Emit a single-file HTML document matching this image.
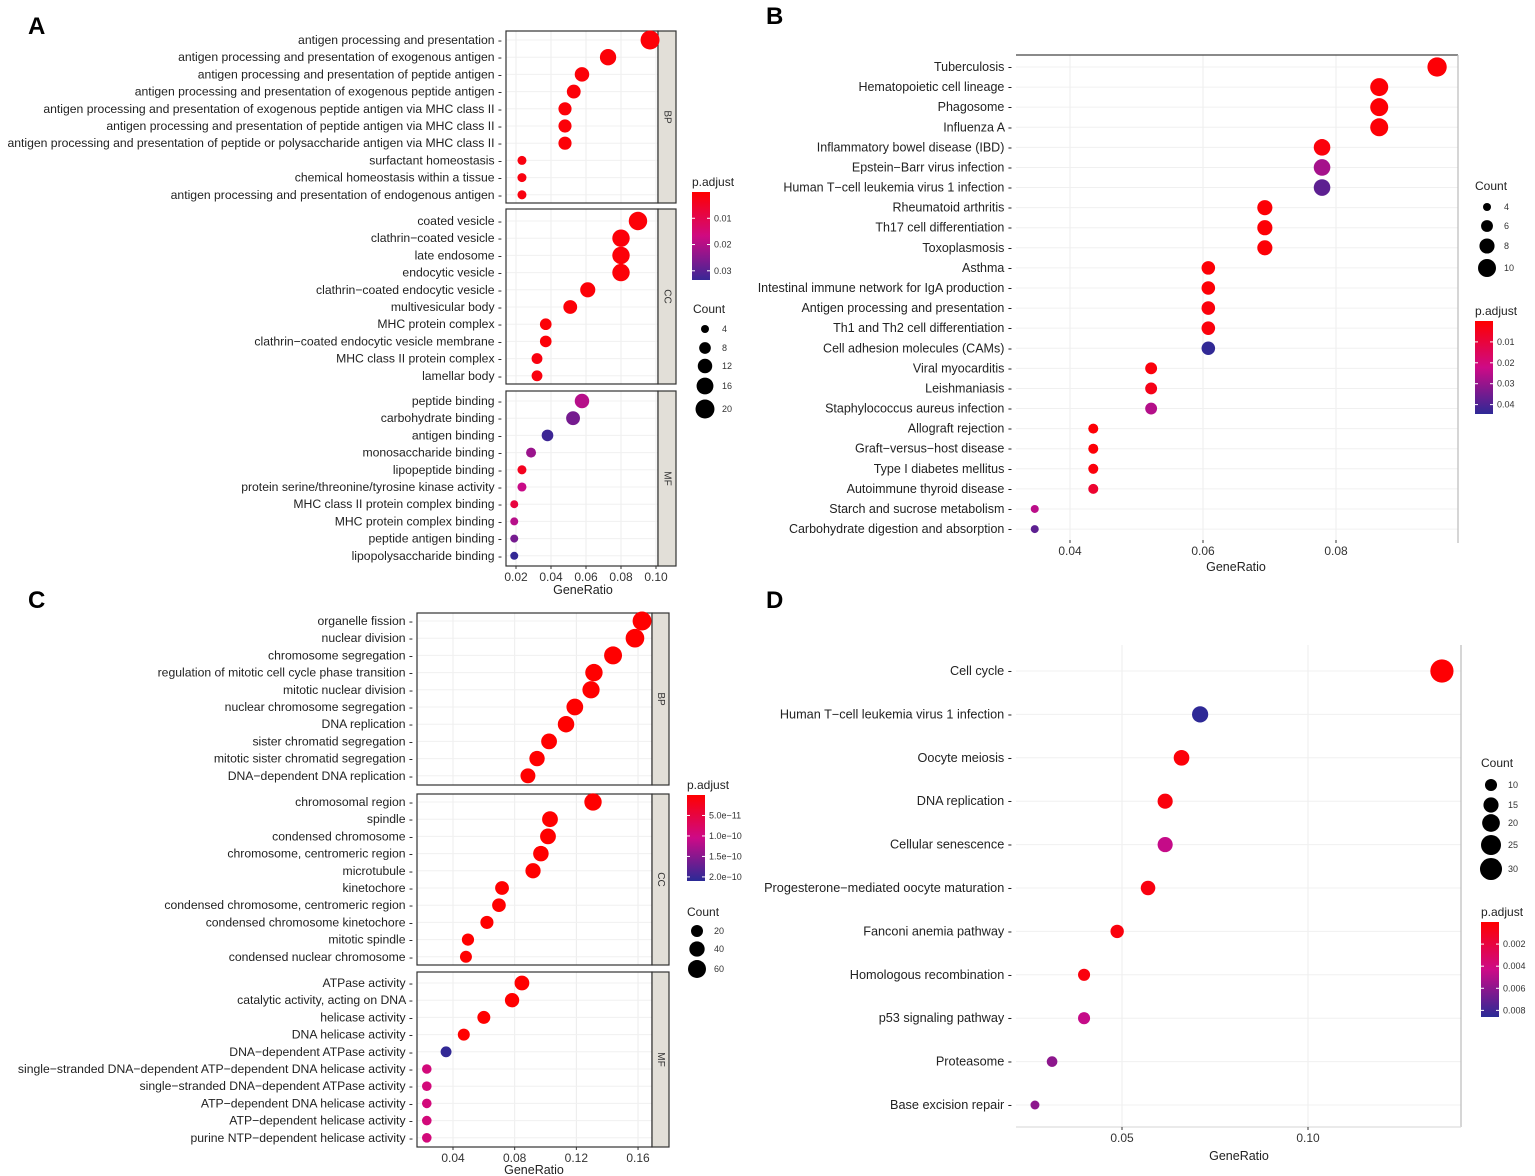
<!DOCTYPE html>
<html><head><meta charset="utf-8">
<style>
html,body{margin:0;padding:0;background:#fff;}
svg{display:block;font-family:"Liberation Sans",Arial,sans-serif;}
</style></head>
<body>
<svg id="fig" width="1535" height="1176" viewBox="0 0 1535 1176" xmlns="http://www.w3.org/2000/svg">
<rect width="1535" height="1176" fill="#fff"/>
<text x="28" y="34" font-size="24" font-weight="bold">A</text>
<text x="766" y="24" font-size="24" font-weight="bold">B</text>
<text x="28" y="608" font-size="24" font-weight="bold">C</text>
<text x="766" y="608" font-size="24" font-weight="bold">D</text>
</svg>
<script>
// ---------- Panel A data ----------
const aTerms = ["antigen processing and presentation","antigen processing and presentation of exogenous antigen","antigen processing and presentation of peptide antigen","antigen processing and presentation of exogenous peptide antigen","antigen processing and presentation of exogenous peptide antigen via MHC class II","antigen processing and presentation of peptide antigen via MHC class II","antigen processing and presentation of peptide or polysaccharide antigen via MHC class II","surfactant homeostasis","chemical homeostasis within a tissue","antigen processing and presentation of endogenous antigen",
"coated vesicle","clathrin\u2212coated vesicle","late endosome","endocytic vesicle","clathrin\u2212coated endocytic vesicle","multivesicular body","MHC protein complex","clathrin\u2212coated endocytic vesicle membrane","MHC class II protein complex","lamellar body",
"peptide binding","carbohydrate binding","antigen binding","monosaccharide binding","lipopeptide binding","protein serine/threonine/tyrosine kinase activity","MHC class II protein complex binding","MHC protein complex binding","peptide antigen binding","lipopolysaccharide binding"];
const aRatio = [0.0966,0.0726,0.0577,0.053,0.048,0.048,0.048,0.0234,0.0234,0.0234,
0.0897,0.080,0.080,0.080,0.061,0.051,0.037,0.037,0.032,0.032,
0.0577,0.0526,0.038,0.0286,0.0234,0.0234,0.019,0.019,0.019,0.019];
const aCount = [20,15,12,11,10,10,10,5,5,5,19,17,17,17,13,11,8,8,7,7,12,11,8,6,5,5,4,4,4,4];
const aPadj = [0.001,0.001,0.001,0.001,0.001,0.001,0.001,0.002,0.002,0.002,
0.001,0.001,0.001,0.001,0.001,0.001,0.001,0.001,0.002,0.002,
0.02,0.027,0.033,0.023,0.004,0.018,0.008,0.02,0.027,0.034];
const aFacets = ["BP","CC","MF"];
const aTicks = [0.02,0.04,0.06,0.08,0.10];
const aTickLabels = ["0.02","0.04","0.06","0.08","0.10"];
const aColorTicks = [0.01,0.02,0.03];
const aColorLabels = ["0.01","0.02","0.03"];
const aSizeTicks = [4,8,12,16,20];

// ---------- Panel B data ----------
const bTerms = ["Tuberculosis","Hematopoietic cell lineage","Phagosome","Influenza A","Inflammatory bowel disease (IBD)","Epstein\u2212Barr virus infection","Human T\u2212cell leukemia virus 1 infection","Rheumatoid arthritis","Th17 cell differentiation","Toxoplasmosis","Asthma","Intestinal immune network for IgA production","Antigen processing and presentation","Th1 and Th2 cell differentiation","Cell adhesion molecules (CAMs)","Viral myocarditis","Leishmaniasis","Staphylococcus aureus infection","Allograft rejection","Graft\u2212versus\u2212host disease","Type I diabetes mellitus","Autoimmune thyroid disease","Starch and sucrose metabolism","Carbohydrate digestion and absorption"];
const bRatio = [0.0952,0.0865,0.0865,0.0865,0.0779,0.0779,0.0779,0.0693,0.0693,0.0693,0.0608,0.0608,0.0608,0.0608,0.0608,0.0522,0.0522,0.0522,0.0435,0.0435,0.0435,0.0435,0.0347,0.0347];
const bCount = [11,10,10,10,9,9,9,8,8,8,7,7,7,7,7,6,6,6,5,5,5,5,4,4];
const bPadj = [0.001,0.001,0.001,0.001,0.002,0.028,0.038,0.001,0.001,0.001,0.001,0.001,0.002,0.002,0.044,0.002,0.004,0.026,0.001,0.001,0.002,0.008,0.025,0.038];
const bTicks = [0.04,0.06,0.08];
const bTickLabels = ["0.04","0.06","0.08"];
const bColorTicks = [0.01,0.02,0.03,0.04];
const bColorLabels = ["0.01","0.02","0.03","0.04"];
const bSizeTicks = [4,6,8,10];

// ---------- Panel C data ----------
const cTerms = ["organelle fission","nuclear division","chromosome segregation","regulation of mitotic cell cycle phase transition","mitotic nuclear division","nuclear chromosome segregation","DNA replication","sister chromatid segregation","mitotic sister chromatid segregation","DNA\u2212dependent DNA replication",
"chromosomal region","spindle","condensed chromosome","chromosome, centromeric region","microtubule","kinetochore","condensed chromosome, centromeric region","condensed chromosome kinetochore","mitotic spindle","condensed nuclear chromosome",
"ATPase activity","catalytic activity, acting on DNA","helicase activity","DNA helicase activity","DNA\u2212dependent ATPase activity","single\u2212stranded DNA\u2212dependent ATP\u2212dependent DNA helicase activity","single\u2212stranded DNA\u2212dependent ATPase activity","ATP\u2212dependent DNA helicase activity","ATP\u2212dependent helicase activity","purine NTP\u2212dependent helicase activity"];
const cRatio = [0.1626,0.158,0.1438,0.1314,0.1295,0.119,0.1133,0.1023,0.0945,0.0886,
0.1308,0.1029,0.1016,0.097,0.0919,0.0718,0.0698,0.062,0.0497,0.0484,
0.0847,0.0783,0.060,0.047,0.0355,0.023,0.023,0.023,0.023,0.023];
const cCount = [68,66,60,55,54,50,48,43,40,37,55,43,43,41,39,30,29,26,21,20,36,33,25,20,15,10,10,10,10,10];
const cPadj = [1e-13,1e-13,1e-13,1e-13,1e-13,1e-13,1e-13,1e-13,1e-13,1e-13,
1e-13,1e-13,1e-13,1e-13,1e-13,1e-13,1e-13,1e-13,1e-13,1e-13,
1e-13,1e-13,1e-13,1e-13,2.05e-10,0.95e-10,0.95e-10,0.95e-10,0.95e-10,0.95e-10];
const cTicks = [0.04,0.08,0.12,0.16];
const cTickLabels = ["0.04","0.08","0.12","0.16"];
const cColorTicks = [5e-11,1e-10,1.5e-10,2e-10];
const cColorLabels = ["5.0e\u221211","1.0e\u221210","1.5e\u221210","2.0e\u221210"];
const cSizeTicks = [20,40,60];

// ---------- Panel D data ----------
const dTerms = ["Cell cycle","Human T\u2212cell leukemia virus 1 infection","Oocyte meiosis","DNA replication","Cellular senescence","Progesterone\u2212mediated oocyte maturation","Fanconi anemia pathway","Homologous recombination","p53 signaling pathway","Proteasome","Base excision repair"];
const dRatio = [0.136,0.071,0.066,0.0616,0.0616,0.057,0.0487,0.0398,0.0398,0.0312,0.0266];
const dCount = [33,17,16,15,15,14,12,10,10,8,6];
const dPadj = [0.0001,0.0085,0.0003,0.0004,0.0045,0.0005,0.0004,0.0004,0.0045,0.006,0.006];
const dTicks = [0.05,0.10];
const dTickLabels = ["0.05","0.10"];
const dColorTicks = [0.002,0.004,0.006,0.008];
const dColorLabels = ["0.002","0.004","0.006","0.008"];
const dSizeTicks = [10,15,20,25,30];

const svg = document.getElementById('fig');
const NS = "http://www.w3.org/2000/svg";
function mk(tag, attrs, parent){
  const e = document.createElementNS(NS, tag);
  for (const k in attrs) e.setAttribute(k, attrs[k]);
  (parent||svg).appendChild(e);
  return e;
}
function colorFor(p, pmin, pmax){
  let t = (p - pmin) / (pmax - pmin); t = Math.max(0, Math.min(1, t));
  const A = [255,0,0], M = [205,10,135], B = [42,42,150];
  let c;
  if (t < 0.5) { const u = t / 0.5; c = A.map((v, i) => v * (1 - u) + M[i] * u); }
  else { const u = (t - 0.5) / 0.5; c = M.map((v, i) => v * (1 - u) + B[i] * u); }
  return `rgb(${Math.round(c[0])},${Math.round(c[1])},${Math.round(c[2])})`;
}

function drawPanel(cfg){
  const g = mk('g', {});
  
  
  const xs = v => cfg.x0px + (v - cfg.x0v) * cfg.pxPerUnit;
  const rad = c => cfg.r0 + cfg.rk * Math.sqrt(c);
  cfg.areas.forEach((ar, fi) => {
    const bg = mk('rect', {x: cfg.left, y: ar.top, width: cfg.right - cfg.left, height: ar.bottom - ar.top, fill: '#fff'}, g);
    
    
    cfg.ticks.forEach(t => {
      mk('line', {x1: xs(t), x2: xs(t), y1: ar.top, y2: ar.bottom, stroke: '#ececec', 'stroke-width': 1}, g);
    });
    for (let i = ar.start; i < ar.end; i++) {
      const y = ar.y0 + (i - ar.start) * cfg.step;
      mk('line', {x1: cfg.left, x2: cfg.right, y1: y, y2: y, stroke: '#f0f0f0', 'stroke-width': 1}, g);
    }
    if (cfg.border) {
      const bd = mk('rect', {x: cfg.left, y: ar.top, width: cfg.right - cfg.left, height: ar.bottom - ar.top, fill: 'none', stroke: '#333', 'stroke-width': 1.2}, g);
      
      
    }
    if (cfg.facets) {
      const st = mk('rect', {x: cfg.right, y: ar.top, width: cfg.stripW, height: ar.bottom - ar.top, fill: '#e2dfd8', stroke: '#333', 'stroke-width': 1.2}, g);
      
      
      const cx = cfg.right + cfg.stripW / 2, cy = (ar.top + ar.bottom) / 2;
      const tx = mk('text', {x: cx, y: cy, 'font-size': 10, fill: '#333', 'text-anchor': 'middle', 'dominant-baseline': 'central', transform: `rotate(90 ${cx} ${cy})`}, g);
      tx.textContent = cfg.facets[fi];
      
      
    }
    for (let i = ar.start; i < ar.end; i++) {
      const y = ar.y0 + (i - ar.start) * cfg.step;
      const lab = mk('text', {x: cfg.left - 4, y: y + 4, 'font-size': cfg.fs, fill: '#222', 'text-anchor': 'end'}, g);
      lab.textContent = cfg.terms[i] + ' -';
      
      
      const c = mk('circle', {cx: xs(cfg.ratio[i]), cy: y, r: rad(cfg.count[i]), fill: colorFor(cfg.padj[i], cfg.pmin, cfg.pmax)}, g);
      
      
    }
  });
  if (cfg.extraLines) cfg.extraLines.forEach(l => mk('line', Object.assign({stroke: '#999', 'stroke-width': 1.2}, l), g));
  cfg.ticks.forEach((t, i) => {
    mk('line', {x1: xs(t), x2: xs(t), y1: cfg.axisY, y2: cfg.axisY + 3, stroke: '#333'}, g);
    const tl = mk('text', {x: xs(t), y: cfg.axisY + 15, 'font-size': 12, fill: '#333', 'text-anchor': 'middle'}, g);
    tl.textContent = cfg.tickLabels[i];
    
    
  });
  const xt = mk('text', {x: cfg.xTitleX, y: cfg.xTitleY, 'font-size': 12.5, fill: '#222', 'text-anchor': 'middle'}, g);
  xt.textContent = 'GeneRatio';
  
  
  const cl = cfg.colorLeg;
  const gid = 'grad-' + cfg.name;
  const defs = mk('defs', {}, g);
  const lg = mk('linearGradient', {id: gid, x1: 0, y1: 0, x2: 0, y2: 1}, defs);
  [0, 0.25, 0.5, 0.75, 1].forEach(f => {
    mk('stop', {offset: (f * 100) + '%', 'stop-color': colorFor(cl.vTop + (cl.vBot - cl.vTop) * f, cfg.pmin, cfg.pmax)}, lg);
  });
  const ct = mk('text', {x: cl.x, y: cl.y - 6, 'font-size': 12, fill: '#222'}, g);
  ct.textContent = 'p.adjust';
  
  
  const bar = mk('rect', {x: cl.x, y: cl.y, width: 18, height: cl.h, fill: `url(#${gid})`}, g);
  
  
  const cy = v => cl.y + (v - cl.vTop) / (cl.vBot - cl.vTop) * cl.h;
  cfg.colorTicks.forEach((v, i) => {
    mk('line', {x1: cl.x, x2: cl.x + 3, y1: cy(v), y2: cy(v), stroke: '#fff'}, g);
    mk('line', {x1: cl.x + 15, x2: cl.x + 18, y1: cy(v), y2: cy(v), stroke: '#fff'}, g);
    const t = mk('text', {x: cl.x + 22, y: cy(v) + 3, 'font-size': 9, fill: '#333'}, g);
    t.textContent = cfg.colorLabels[i];
    
    
  });
  const sl = cfg.sizeLeg;
  const st = mk('text', {x: sl.x, y: sl.y, 'font-size': 12, fill: '#222'}, g);
  st.textContent = 'Count';
  
  
  cfg.sizeTicks.forEach((c, i) => {
    const yy = sl.ys[i];
    const k = mk('circle', {cx: sl.cx, cy: yy, r: rad(c), fill: '#000'}, g);
    
    
    const t = mk('text', {x: sl.cx + 17, y: yy + 3, 'font-size': 9, fill: '#333'}, g);
    t.textContent = String(c);
    
    
  });
}

drawPanel({name:'panel-a', terms:aTerms, ratio:aRatio, count:aCount, padj:aPadj, facets:aFacets,
  left:506, right:658, stripW:18, border:true, fs:12.2, step:17.2,
  x0v:0.02, x0px:516, pxPerUnit:1750, r0:-0.45, rk:2.22, pmin:0, pmax:0.035,
  areas:[{top:31,bottom:203,start:0,end:10,y0:40},{top:209,bottom:384,start:10,end:20,y0:221},{top:391,bottom:566,start:20,end:30,y0:401}],
  ticks:aTicks, tickLabels:aTickLabels, axisY:566, xTitleX:583, xTitleY:594,
  colorTicks:aColorTicks, colorLabels:aColorLabels, colorLeg:{x:692,y:192,h:88,vTop:0,vBot:0.0335},
  sizeTicks:aSizeTicks, sizeLeg:{x:693,y:313,cx:705,ys:[329,348,366,386,409]}});

drawPanel({name:'panel-b', terms:bTerms, ratio:bRatio, count:bCount, padj:bPadj,
  left:1016, right:1458, border:false, fs:12.5, step:20.09,
  x0v:0.04, x0px:1070, pxPerUnit:6650, r0:-4.6, rk:4.3, pmin:0, pmax:0.045,
  areas:[{top:55,bottom:543,start:0,end:24,y0:67}],
  extraLines:[{x1:1016,x2:1458,y1:55,y2:55,stroke:'#444'},{x1:1458,x2:1458,y1:55,y2:543,stroke:'#bbb'}],
  ticks:bTicks, tickLabels:bTickLabels, axisY:540, xTitleX:1236, xTitleY:571,
  colorTicks:bColorTicks, colorLabels:bColorLabels, colorLeg:{x:1475,y:321,h:93,vTop:0,vBot:0.0445},
  sizeTicks:bSizeTicks, sizeLeg:{x:1475,y:190,cx:1487,ys:[207,226,246,268]}});

drawPanel({name:'panel-c', terms:cTerms, ratio:cRatio, count:cCount, padj:cPadj, facets:aFacets,
  left:417, right:652, stripW:17, border:true, fs:12.2, step:17.2,
  x0v:0.04, x0px:453, pxPerUnit:1542, r0:1.9, rk:0.915, pmin:0, pmax:2.1e-10,
  areas:[{top:613,bottom:785,start:0,end:10,y0:621},{top:794,bottom:965,start:10,end:20,y0:802},{top:972,bottom:1147,start:20,end:30,y0:983}],
  ticks:cTicks, tickLabels:cTickLabels, axisY:1147, xTitleX:534, xTitleY:1174,
  colorTicks:cColorTicks, colorLabels:cColorLabels, colorLeg:{x:687,y:795,h:86,vTop:0,vBot:2.1e-10},
  sizeTicks:cSizeTicks, sizeLeg:{x:687,y:916,cx:697,ys:[931,949,969]}});

drawPanel({name:'panel-d', terms:dTerms, ratio:dRatio, count:dCount, padj:dPadj,
  left:1016, right:1461, border:false, fs:12.7, step:43.4,
  x0v:0.05, x0px:1122, pxPerUnit:3720, r0:-0.8, rk:2.16, pmin:0, pmax:0.0086,
  areas:[{top:645,bottom:1127,start:0,end:11,y0:671}],
  extraLines:[{x1:1461,x2:1461,y1:645,y2:1127,stroke:'#bbb'},{x1:1016,x2:1461,y1:1127,y2:1127,stroke:'#ddd'}],
  ticks:dTicks, tickLabels:dTickLabels, axisY:1127, xTitleX:1239, xTitleY:1160,
  colorTicks:dColorTicks, colorLabels:dColorLabels, colorLeg:{x:1481,y:922,h:95,vTop:0,vBot:0.0086},
  sizeTicks:dSizeTicks, sizeLeg:{x:1481,y:767,cx:1491,ys:[785,805,823,845,869]}});
</script>
</body></html>
